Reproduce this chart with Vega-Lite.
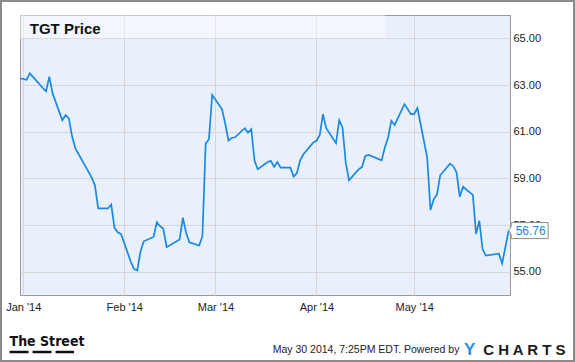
{
  "$schema": "https://vega.github.io/schema/vega-lite/v6.json",
  "width": 490,
  "height": 280,
  "autosize": {"type": "none"},
  "padding": {"left": 20, "top": 15, "right": 65, "bottom": 67},
  "background": "#ffffff",
  "config": {
    "view": {"fill": "#EAF0FB", "stroke": "#999999", "strokeWidth": 1},
    "font": "Liberation Sans, Arial, sans-serif"
  },
  "datasets": {
    "prices": [
      {"date": "2013-12-31", "price": 63.29},
      {"date": "2014-01-02", "price": 63.22},
      {"date": "2014-01-03", "price": 63.50},
      {"date": "2014-01-06", "price": 63.03},
      {"date": "2014-01-07", "price": 62.87},
      {"date": "2014-01-08", "price": 62.73},
      {"date": "2014-01-09", "price": 63.36},
      {"date": "2014-01-10", "price": 62.64},
      {"date": "2014-01-13", "price": 61.49},
      {"date": "2014-01-14", "price": 61.71},
      {"date": "2014-01-15", "price": 61.57},
      {"date": "2014-01-16", "price": 60.79},
      {"date": "2014-01-17", "price": 60.28},
      {"date": "2014-01-21", "price": 59.29},
      {"date": "2014-01-22", "price": 59.03},
      {"date": "2014-01-23", "price": 58.70},
      {"date": "2014-01-24", "price": 57.71},
      {"date": "2014-01-27", "price": 57.71},
      {"date": "2014-01-28", "price": 57.88},
      {"date": "2014-01-29", "price": 56.88},
      {"date": "2014-01-30", "price": 56.69},
      {"date": "2014-01-31", "price": 56.62},
      {"date": "2014-02-03", "price": 55.43},
      {"date": "2014-02-04", "price": 55.11},
      {"date": "2014-02-05", "price": 55.06},
      {"date": "2014-02-06", "price": 55.87},
      {"date": "2014-02-07", "price": 56.30},
      {"date": "2014-02-10", "price": 56.49},
      {"date": "2014-02-11", "price": 57.12},
      {"date": "2014-02-12", "price": 56.95},
      {"date": "2014-02-13", "price": 56.84},
      {"date": "2014-02-14", "price": 56.05},
      {"date": "2014-02-18", "price": 56.38},
      {"date": "2014-02-19", "price": 57.31},
      {"date": "2014-02-20", "price": 56.66},
      {"date": "2014-02-21", "price": 56.26},
      {"date": "2014-02-24", "price": 56.12},
      {"date": "2014-02-25", "price": 56.52},
      {"date": "2014-02-26", "price": 60.49},
      {"date": "2014-02-27", "price": 60.68},
      {"date": "2014-02-28", "price": 62.57},
      {"date": "2014-03-03", "price": 61.97},
      {"date": "2014-03-04", "price": 61.35},
      {"date": "2014-03-05", "price": 60.61},
      {"date": "2014-03-06", "price": 60.73},
      {"date": "2014-03-07", "price": 60.76},
      {"date": "2014-03-10", "price": 61.15},
      {"date": "2014-03-11", "price": 60.96},
      {"date": "2014-03-12", "price": 61.11},
      {"date": "2014-03-13", "price": 59.75},
      {"date": "2014-03-14", "price": 59.39},
      {"date": "2014-03-17", "price": 59.70},
      {"date": "2014-03-18", "price": 59.75},
      {"date": "2014-03-19", "price": 59.49},
      {"date": "2014-03-20", "price": 59.70},
      {"date": "2014-03-21", "price": 59.46},
      {"date": "2014-03-24", "price": 59.46},
      {"date": "2014-03-25", "price": 59.07},
      {"date": "2014-03-26", "price": 59.22},
      {"date": "2014-03-27", "price": 59.77},
      {"date": "2014-03-28", "price": 60.03},
      {"date": "2014-03-31", "price": 60.53},
      {"date": "2014-04-01", "price": 60.61},
      {"date": "2014-04-02", "price": 60.85},
      {"date": "2014-04-03", "price": 61.75},
      {"date": "2014-04-04", "price": 61.15},
      {"date": "2014-04-07", "price": 60.51},
      {"date": "2014-04-08", "price": 61.49},
      {"date": "2014-04-09", "price": 61.18},
      {"date": "2014-04-10", "price": 59.67},
      {"date": "2014-04-11", "price": 58.91},
      {"date": "2014-04-14", "price": 59.39},
      {"date": "2014-04-15", "price": 59.49},
      {"date": "2014-04-16", "price": 59.96},
      {"date": "2014-04-17", "price": 60.00},
      {"date": "2014-04-21", "price": 59.77},
      {"date": "2014-04-22", "price": 60.32},
      {"date": "2014-04-23", "price": 60.75},
      {"date": "2014-04-24", "price": 61.47},
      {"date": "2014-04-25", "price": 61.28},
      {"date": "2014-04-28", "price": 62.18},
      {"date": "2014-04-29", "price": 61.97},
      {"date": "2014-04-30", "price": 61.75},
      {"date": "2014-05-01", "price": 61.75},
      {"date": "2014-05-02", "price": 62.01},
      {"date": "2014-05-05", "price": 59.89},
      {"date": "2014-05-06", "price": 57.64},
      {"date": "2014-05-07", "price": 58.10},
      {"date": "2014-05-08", "price": 58.31},
      {"date": "2014-05-09", "price": 59.13},
      {"date": "2014-05-12", "price": 59.63},
      {"date": "2014-05-13", "price": 59.52},
      {"date": "2014-05-14", "price": 59.26},
      {"date": "2014-05-15", "price": 58.21},
      {"date": "2014-05-16", "price": 58.64},
      {"date": "2014-05-19", "price": 58.29},
      {"date": "2014-05-20", "price": 56.62},
      {"date": "2014-05-21", "price": 57.18},
      {"date": "2014-05-22", "price": 55.96},
      {"date": "2014-05-23", "price": 55.69},
      {"date": "2014-05-27", "price": 55.77},
      {"date": "2014-05-28", "price": 55.35},
      {"date": "2014-05-29", "price": 56.05},
      {"date": "2014-05-30", "price": 56.76}
    ],
    "labels": [
      {"key": "frame", "text": ""},
      {"key": "band", "text": ""},
      {"key": "title", "text": "TGT Price"},
      {"key": "street", "text": "The Street"},
      {"key": "underline", "text": ""},
      {"key": "stamp", "text": "May 30 2014, 7:25PM EDT.  Powered by"},
      {"key": "y", "text": "Y"},
      {"key": "charts", "text": "C H A R T S"}
    ]
  },
  "layer": [
    {
      "data": {"name": "labels"},
      "transform": [{"filter": "datum.key == 'frame'"}],
      "mark": {"type": "rect", "fill": "#ffffff", "fillOpacity": 0, "stroke": "#8a8a8a", "strokeWidth": 2},
      "encoding": {
        "x": {"datum": {"year": 2013, "month": 12, "date": 25, "hours": 4, "utc": true}, "type": "temporal", "scale": {"type": "utc", "domain": [{"year": 2013, "month": 12, "date": 31, "utc": true}, {"year": 2014, "month": 5, "date": 30, "hours": 10, "utc": true}], "nice": false}},
        "x2": {"datum": {"year": 2014, "month": 6, "date": 19, "hours": 1, "minutes": 30, "utc": true}},
        "y": {"datum": 66.6, "type": "quantitative", "scale": {"domain": [54, 66], "nice": false, "zero": false}},
        "y2": {"datum": 51.171}
      }
    },
    {
      "data": {"name": "labels"},
      "transform": [{"filter": "datum.key == 'band'"}],
      "mark": {"type": "rect", "fill": "#ffffff", "fillOpacity": 0.45},
      "encoding": {
        "x": {"datum": {"year": 2013, "month": 12, "date": 31, "utc": true}, "type": "temporal", "scale": {"type": "utc", "domain": [{"year": 2013, "month": 12, "date": 31, "utc": true}, {"year": 2014, "month": 5, "date": 30, "hours": 10, "utc": true}], "nice": false}},
        "x2": {"datum": {"year": 2014, "month": 4, "date": 22, "utc": true}},
        "y": {"datum": 66, "type": "quantitative", "scale": {"domain": [54, 66], "nice": false, "zero": false}},
        "y2": {"datum": 65}
      }
    },
    {
      "data": {"name": "prices"},
      "mark": {"type": "line", "color": "#1689E6", "strokeWidth": 1.7},
      "encoding": {
        "x": {
          "field": "date", "type": "temporal",
          "scale": {"type": "utc", "domain": [{"year": 2013, "month": 12, "date": 31, "utc": true}, {"year": 2014, "month": 5, "date": 30, "hours": 10, "utc": true}], "nice": false},
          "axis": {
            "orient": "bottom", "title": null, "format": "%b '%y",
            "values": [
              {"year": 2014, "month": 1, "date": 1, "utc": true},
              {"year": 2014, "month": 2, "date": 1, "utc": true},
              {"year": 2014, "month": 3, "date": 1, "utc": true},
              {"year": 2014, "month": 4, "date": 1, "utc": true},
              {"year": 2014, "month": 5, "date": 1, "utc": true}
            ],
            "grid": true, "gridColor": "#D6D6D6", "gridWidth": 1,
            "domain": false, "ticks": false, "tickSize": 0,
            "labelPadding": 6, "labelFlush": false, "labelOverlap": false,
            "labelFont": "Liberation Sans", "labelFontSize": 11, "labelColor": "#222222"
          }
        },
        "y": {
          "field": "price", "type": "quantitative",
          "scale": {"domain": [54, 66], "nice": false, "zero": false},
          "axis": {
            "orient": "right", "title": null, "format": ".2f",
            "values": [55, 57, 59, 61, 63, 65],
            "grid": true, "gridColor": "#D6D6D6", "gridWidth": 1,
            "domain": false, "ticks": false, "tickSize": 0,
            "labelPadding": 3, "labelFont": "Liberation Sans", "labelFontSize": 11, "labelColor": "#222222"
          }
        }
      }
    },
    {
      "data": {"name": "prices"},
      "transform": [
        {"window": [{"op": "row_number", "as": "rn"}], "sort": [{"field": "date", "order": "descending"}]},
        {"filter": "datum.rn == 1"}
      ],
      "mark": {
        "type": "point", "filled": true, "fill": "#ffffff", "stroke": "#8a8a8a", "strokeWidth": 1, "opacity": 1,
        "size": 1600,
        "shape": "M0,0L0.125,-0.2L0.125,-0.4L1.975,-0.4L1.975,0.4L0.125,0.4L0.125,0.2Z"
      },
      "encoding": {
        "x": {"field": "date", "type": "temporal", "scale": {"type": "utc", "domain": [{"year": 2013, "month": 12, "date": 31, "utc": true}, {"year": 2014, "month": 5, "date": 30, "hours": 10, "utc": true}], "nice": false}},
        "y": {"field": "price", "type": "quantitative", "scale": {"domain": [54, 66], "nice": false, "zero": false}}
      }
    },
    {
      "data": {"name": "prices"},
      "transform": [
        {"window": [{"op": "row_number", "as": "rn"}], "sort": [{"field": "date", "order": "descending"}]},
        {"filter": "datum.rn == 1"}
      ],
      "mark": {"type": "text", "align": "left", "baseline": "middle", "dx": 7, "dy": 0.5, "fontSize": 12, "color": "#1689E6", "font": "Liberation Sans"},
      "encoding": {
        "x": {"field": "date", "type": "temporal", "scale": {"type": "utc", "domain": [{"year": 2013, "month": 12, "date": 31, "utc": true}, {"year": 2014, "month": 5, "date": 30, "hours": 10, "utc": true}], "nice": false}},
        "y": {"field": "price", "type": "quantitative", "scale": {"domain": [54, 66], "nice": false, "zero": false}},
        "text": {"field": "price", "type": "quantitative", "format": ".2f"}
      }
    },
    {
      "data": {"name": "labels"},
      "transform": [{"filter": "datum.key == 'title'"}],
      "mark": {"type": "text", "align": "left", "baseline": "alphabetic", "fontSize": 15, "fontWeight": "bold", "color": "#111111", "font": "Liberation Sans"},
      "encoding": {
        "x": {"datum": {"year": 2014, "month": 1, "date": 3, "utc": true}, "type": "temporal", "scale": {"type": "utc", "domain": [{"year": 2013, "month": 12, "date": 31, "utc": true}, {"year": 2014, "month": 5, "date": 30, "hours": 10, "utc": true}], "nice": false}},
        "y": {"datum": 65.173, "type": "quantitative", "scale": {"domain": [54, 66], "nice": false, "zero": false}},
        "text": {"field": "text"}
      }
    },
    {
      "data": {"name": "labels"},
      "transform": [{"filter": "datum.key == 'street'"}],
      "mark": {"type": "text", "align": "left", "baseline": "alphabetic", "fontSize": 14, "fontWeight": "bold", "color": "#111111", "font": "Liberation Sans Narrow, DejaVu Sans Condensed, sans-serif"},
      "encoding": {
        "x": {"datum": {"year": 2013, "month": 12, "date": 27, "hours": 19, "utc": true}, "type": "temporal", "scale": {"type": "utc", "domain": [{"year": 2013, "month": 12, "date": 31, "utc": true}, {"year": 2014, "month": 5, "date": 30, "hours": 10, "utc": true}], "nice": false}},
        "y": {"datum": 51.814, "type": "quantitative", "scale": {"domain": [54, 66], "nice": false, "zero": false}},
        "text": {"field": "text"}
      }
    },
    {
      "data": {"name": "labels"},
      "transform": [{"filter": "datum.key == 'underline'"}],
      "mark": {"type": "rule", "color": "#111111", "strokeWidth": 2.5, "strokeDash": [19, 4]},
      "encoding": {
        "x": {"datum": {"year": 2013, "month": 12, "date": 27, "hours": 19, "utc": true}, "type": "temporal", "scale": {"type": "utc", "domain": [{"year": 2013, "month": 12, "date": 31, "utc": true}, {"year": 2014, "month": 5, "date": 30, "hours": 10, "utc": true}], "nice": false}},
        "x2": {"datum": {"year": 2014, "month": 1, "date": 16, "hours": 14, "utc": true}},
        "y": {"datum": 51.557, "type": "quantitative", "scale": {"domain": [54, 66], "nice": false, "zero": false}}
      }
    },
    {
      "data": {"name": "labels"},
      "transform": [{"filter": "datum.key == 'stamp'"}],
      "mark": {"type": "text", "align": "right", "baseline": "alphabetic", "fontSize": 10.5, "color": "#222222", "font": "Liberation Sans"},
      "encoding": {
        "x": {"datum": {"year": 2014, "month": 5, "date": 14, "hours": 21, "minutes": 40, "utc": true}, "type": "temporal", "scale": {"type": "utc", "domain": [{"year": 2013, "month": 12, "date": 31, "utc": true}, {"year": 2014, "month": 5, "date": 30, "hours": 10, "utc": true}], "nice": false}},
        "y": {"datum": 51.514, "type": "quantitative", "scale": {"domain": [54, 66], "nice": false, "zero": false}},
        "text": {"field": "text"}
      }
    },
    {
      "data": {"name": "labels"},
      "transform": [{"filter": "datum.key == 'y'"}],
      "mark": {"type": "text", "align": "left", "baseline": "alphabetic", "fontSize": 17, "fontWeight": "bold", "color": "#2A8DE0", "font": "Liberation Sans"},
      "encoding": {
        "x": {"datum": {"year": 2014, "month": 5, "date": 16, "hours": 7, "utc": true}, "type": "temporal", "scale": {"type": "utc", "domain": [{"year": 2013, "month": 12, "date": 31, "utc": true}, {"year": 2014, "month": 5, "date": 30, "hours": 10, "utc": true}], "nice": false}},
        "y": {"datum": 51.429, "type": "quantitative", "scale": {"domain": [54, 66], "nice": false, "zero": false}},
        "text": {"field": "text"}
      }
    },
    {
      "data": {"name": "labels"},
      "transform": [{"filter": "datum.key == 'charts'"}],
      "mark": {"type": "text", "align": "left", "baseline": "alphabetic", "fontSize": 15, "fontWeight": "bold", "color": "#1c1c1c", "font": "Liberation Sans"},
      "encoding": {
        "x": {"datum": {"year": 2014, "month": 5, "date": 22, "hours": 5, "minutes": 15, "utc": true}, "type": "temporal", "scale": {"type": "utc", "domain": [{"year": 2013, "month": 12, "date": 31, "utc": true}, {"year": 2014, "month": 5, "date": 30, "hours": 10, "utc": true}], "nice": false}},
        "y": {"datum": 51.429, "type": "quantitative", "scale": {"domain": [54, 66], "nice": false, "zero": false}},
        "text": {"field": "text"}
      }
    }
  ]
}
